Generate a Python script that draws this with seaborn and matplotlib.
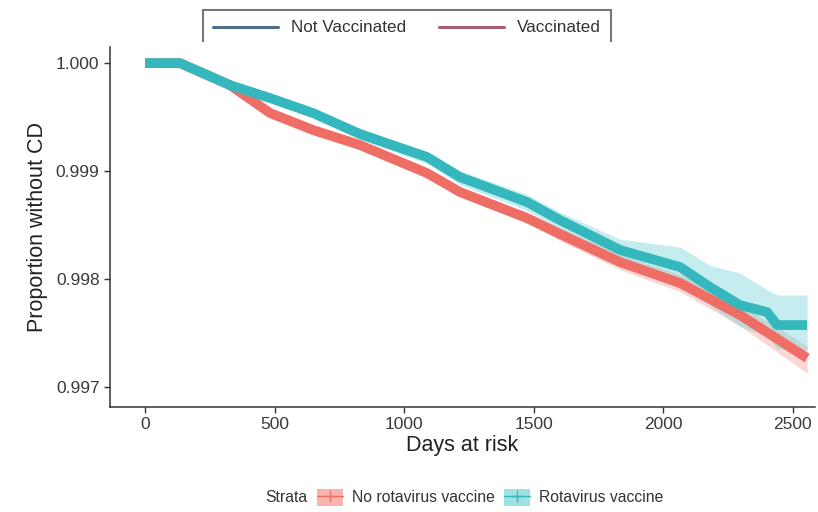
import matplotlib
matplotlib.use("Agg")
import matplotlib.pyplot as plt
import numpy as np
import pandas as pd
import seaborn as sns
from matplotlib.lines import Line2D
from matplotlib.patches import Patch
from matplotlib.legend_handler import HandlerTuple
from matplotlib.transforms import Bbox, TransformedBbox

# Kaplan-Meier estimates
days_no = [0, 135, 328, 483, 649, 830, 1089, 1216, 1475, 1602, 1834,
           2066, 2297, 2556]
surv_no = [1.0, 1.0, 0.999796, 0.999537, 0.999380, 0.999241, 0.998981,
           0.998806, 0.998565, 0.998417, 0.998157, 0.997963, 0.997667,
           0.997269]
low_no = [1.0, 1.0, 0.999781, 0.999517, 0.999355, 0.999211, 0.998941,
          0.998761, 0.998515, 0.998357, 0.998087, 0.997883, 0.997567,
          0.997130]
high_no = [1.0, 1.0, 0.999811, 0.999557, 0.999405, 0.999271, 0.999021,
           0.998851, 0.998615, 0.998477, 0.998227, 0.998043, 0.997767,
           0.997380]

days_rv = [0, 135, 328, 483, 649, 830, 1089, 1216, 1475, 1602, 1834,
           2066, 2181, 2297, 2402, 2440, 2556]
surv_rv = [1.0, 1.0, 0.999796, 0.999676, 0.999537, 0.999343, 0.999130,
           0.998944, 0.998713, 0.998546, 0.998269, 0.998111, 0.997926,
           0.997759, 0.997694, 0.997574, 0.997574]
low_rv = [1.0, 1.0, 0.999776, 0.999646, 0.999497, 0.999293, 0.999070,
          0.998874, 0.998633, 0.998466, 0.998169, 0.997961, 0.997756,
          0.997559, 0.997474, 0.997354, 0.997340]
high_rv = [1.0, 1.0, 0.999816, 0.999706, 0.999577, 0.999393, 0.999180,
           0.999004, 0.998783, 0.998620, 0.998369, 0.998296, 0.998126,
           0.998056, 0.997900, 0.997852, 0.997852]

strata = ["No rotavirus vaccine", "Rotavirus vaccine"]
top_labels = ["Not Vaccinated", "Vaccinated"]

red = "#EE6E66"
cyan = "#35B8BD"
colors = {strata[0]: red, strata[1]: cyan}

df = pd.concat([
    pd.DataFrame({"days": days_no, "surv": surv_no, "strata": strata[0]}),
    pd.DataFrame({"days": days_rv, "surv": surv_rv, "strata": strata[1]}),
])

sns.set_theme(style="ticks")
plt.rcParams["font.family"] = ["Liberation Sans", "DejaVu Sans"]

fig = plt.figure(figsize=(8.18, 5.12), dpi=100)
ax = fig.add_axes([0.1345, 0.205, 0.862, 0.703])

ax.fill_between(days_no, low_no, high_no, color="#F8A7A1", alpha=0.45, lw=0)
ax.fill_between(days_rv, low_rv, high_rv, color="#7FD6DA", alpha=0.45, lw=0)

sns.lineplot(data=df, x="days", y="surv", hue="strata", palette=colors,
             linewidth=7, ax=ax, legend=False, estimator=None,
             solid_capstyle="butt", solid_joinstyle="round")

ax.set_xlim(-135, 2587)
ax.set_ylim(0.996815, 1.000148)
ax.set_xticks([0, 500, 1000, 1500, 2000, 2500])
ax.set_yticks([0.997, 0.998, 0.999, 1.000])
ax.yaxis.set_major_formatter(matplotlib.ticker.FormatStrFormatter("%.3f"))
ax.tick_params(labelsize=12.5, colors="#333333", length=4, width=1)
ax.tick_params(axis="both", labelcolor="#3a3a3a")
ax.set_xlabel("Days at risk", fontsize=15.5, color="#222222", labelpad=2)
ax.set_ylabel("Proportion without CD", fontsize=15.5, color="#222222", labelpad=6)
for s in ["left", "bottom"]:
    ax.spines[s].set_color("#333333")
    ax.spines[s].set_linewidth(1.1)
sns.despine(ax=ax)

# top legend (its bottom edge is cut off, as in the original)
top_handles = [Line2D([0], [0], color="#4E6D8C", lw=2.2),
               Line2D([0], [0], color="#A85C6A", lw=2.2)]
leg_top = fig.legend(top_handles, top_labels, loc="upper center",
                     bbox_to_anchor=(0.4975, 0.980), ncol=2, fontsize=12.3,
                     frameon=True, fancybox=False, edgecolor="#555555",
                     handlelength=3.8, columnspacing=1.9, borderpad=0.6,
                     borderaxespad=0, handletextpad=0.75, labelcolor="#333333")
frame = leg_top.get_frame()
frame.set_linewidth(1.5)
frame.set_clip_box(TransformedBbox(Bbox.from_extents(0, 0.918, 1, 1),
                                   fig.transFigure))
frame.set_clip_on(True)

# bottom legend
bottom_handles = [
    (Patch(facecolor="#F8B4AF", edgecolor="none"),
     Line2D([0], [0], color=red, lw=1, marker="+", markersize=9)),
    (Patch(facecolor="#9EE0E3", edgecolor="none"),
     Line2D([0], [0], color=cyan, lw=1, marker="+", markersize=9)),
]
fig.text(0.324, 0.029, "Strata", fontsize=11.3, color="#333333", va="center")
fig.legend(bottom_handles, strata, loc="center left",
           bbox_to_anchor=(0.370, 0.029), ncol=2, fontsize=11.3, frameon=False,
           handler_map={tuple: HandlerTuple(ndivide=1, pad=0)},
           handlelength=1.7, handleheight=1.3, columnspacing=0.55,
           handletextpad=0.55, labelcolor="#333333")

fig.savefig("out.png", dpi=100)
